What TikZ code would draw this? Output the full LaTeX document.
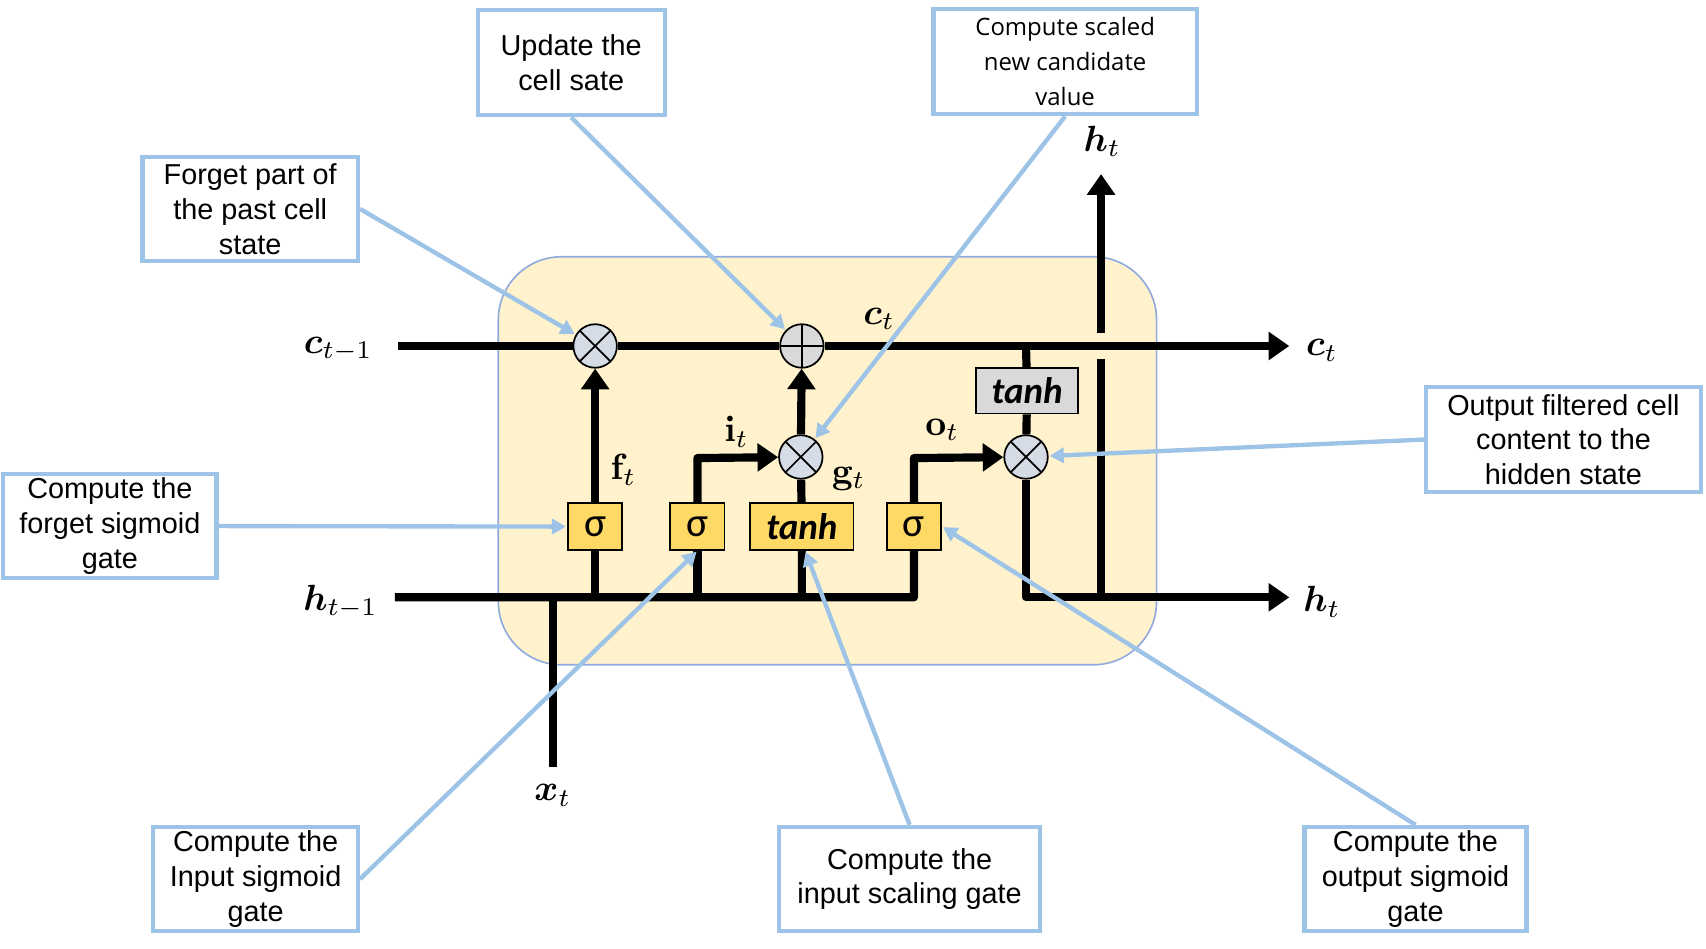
\documentclass[tikz,border=0pt]{standalone}
\usepackage[no-math]{fontspec}
\usepackage{bm}
\setmainfont{Liberation Sans}
\newfontfamily\candfont{Open Sans}
\newfontfamily\gatefont{Carlito}
\usetikzlibrary{arrows.meta}
\definecolor{cellfill}{HTML}{FFF2CC}
\definecolor{cellline}{HTML}{8FAADC}
\definecolor{gatefill}{HTML}{FFD966}
\definecolor{opfill}{HTML}{D6DCE5}
\definecolor{addfill}{HTML}{D9D9D9}
\definecolor{notec}{HTML}{9DC3E6}
\pgfdeclarelayer{back}
\pgfdeclarelayer{wires}
\pgfsetlayers{back,wires,main}
% large math symbol label
\newcommand{\biglab}[1]{\scalebox{3.35}{$#1$}}
\begin{document}
\begin{tikzpicture}[x=1pt,y=-1pt,
  wire/.style={line width=7.5pt, line join=round},
  flow/.style={wire, -{Triangle[width=25pt,length=19pt]}},
  gate/.style={draw, line width=1.6pt, fill=gatefill, minimum width=50pt,
    minimum height=43pt, inner sep=0pt,
    font=\gatefont\fontsize{38}{38}\selectfont},
  tgate/.style={gate, minimum width=95pt,
    font=\gatefont\bfseries\itshape\fontsize{34}{34}\selectfont},
  ggate/.style={tgate, fill=addfill, minimum width=94pt, minimum height=42pt},
  opnode/.style={circle, draw, line width=1.6pt, minimum size=40pt, inner sep=0pt},
  mult/.style={opnode, fill=opfill,
    path picture={\draw[line width=1.6pt]
      (path picture bounding box.north west) -- (path picture bounding box.south east)
      (path picture bounding box.north east) -- (path picture bounding box.south west);}},
  addop/.style={opnode, fill=addfill,
    path picture={\draw[line width=1.6pt]
      (path picture bounding box.north) -- (path picture bounding box.south)
      (path picture bounding box.east) -- (path picture bounding box.west);}},
  mlabel/.style={inner sep=0pt},
  note/.style={draw=notec, line width=3.8pt, fill=white, align=center,
    inner sep=0pt, font=\fontsize{26.5}{32}\selectfont},
  pointer/.style={draw=notec, line width=4pt,
    -{Triangle[width=14pt,length=13pt]}, shorten >=1pt}
]
\useasboundingbox (0,0) rectangle (1568,872);

% cell body
\begin{pgfonlayer}{back}
  \path[fill=cellfill, draw=cellline, line width=1.5pt, rounded corners=58pt]
    (458,236) rectangle (1063,611);
\end{pgfonlayer}

% operators
\node[mult]  (mf)  at (547,318) {};
\node[addop] (add) at (737,318) {};
\node[mult]  (mi)  at (736,420) {};
\node[mult]  (mo)  at (943,420) {};

% gates
\node[gate]  (sf) at (547,484) {σ};
\node[gate]  (si) at (641,484) {σ};
\node[tgate] (tg) at (737,484) {tanh};
\node[gate]  (so) at (840,484) {σ};
\node[ggate] (tc) at (944,359) {tanh};

% wire end points and corners
\coordinate (cin)  at (366,318);
\coordinate (cout) at (1185,318);
\coordinate (hin)  at (363,549);
\coordinate (hout) at (1185,549);
\coordinate (jf)   at (547,549);
\coordinate (ji)   at (641,549);
\coordinate (jg)   at (737,549);
\coordinate (jo)   at (840,549);
\coordinate (ki)   at (641,421);
\coordinate (ko)   at (840,421);
\coordinate (xj)   at (508,549);
\coordinate (xin)  at (508,705);
\coordinate (cc)   at (943,318);
\coordinate (hc)   at (943,549);
\coordinate (hu)   at (1012,549);
\coordinate (hu1)  at (1012,330);
\coordinate (hu2)  at (1012,306);
\coordinate (htop) at (1012,160);

\begin{pgfonlayer}{wires}
  % cell state path
  \draw[wire] (cin) -- (mf) -- (add);
  \draw[flow] (add) -- (cout);
  % hidden state input and output gate branch
  \draw[flow] (hin) -- (jo) -- (ko) -- (mo);
  % forget gate
  \draw[wire] (jf) -- (sf);
  \draw[flow] (sf) -- (mf);
  % input gate
  \draw[wire] (ji) -- (si);
  \draw[flow] (si) -- (ki) -- (mi);
  % candidate
  \draw[wire] (jg) -- (tg) -- (mi);
  \draw[flow] (mi) -- (add);
  % input x_t
  \draw[wire] (xj) -- (xin);
  % output
  \draw[wire] (cc) -- (tc) -- (mo);
  \draw[flow] (mo) -- (hc) -- (hout);
  \draw[wire] (hu) -- (hu1);
  \draw[flow] (hu2) -- (htop);
\end{pgfonlayer}

% variable labels
\node[mlabel] (lcp) at (311,321) {\biglab{\bm{c}_{t-1}}};
\node[mlabel] (lhp) at (313,553) {\biglab{\bm{h}_{t-1}}};
\node[mlabel] (lci) at (808,293) {\biglab{\bm{c}_{t}}};
\node[mlabel] (lco) at (1215,322) {\biglab{\bm{c}_{t}}};
\node[mlabel] (lho) at (1215,553) {\biglab{\bm{h}_{t}}};
\node[mlabel] (lht) at (1013,130) {\biglab{\bm{h}_{t}}};
\node[mlabel] (lx)  at (508,731) {\biglab{\bm{x}_{t}}};
\node[mlabel] (lf)  at (573,432) {\biglab{\mathbf{f}_{t}}};
\node[mlabel] (li)  at (677,397) {\biglab{\mathbf{i}_{t}}};
\node[mlabel] (lg)  at (780,440) {\biglab{\mathbf{g}_{t}}};
\node[mlabel] (lo)  at (866,395) {\biglab{\mathbf{o}_{t}}};

% annotations
\node[note, minimum width=198pt, minimum height=96pt] (nfp) at (230,192)
  {Forget part of\\the past cell\\state};
\node[note, minimum width=172pt, minimum height=97pt] (nup) at (525,57.5)
  {Update the\\cell sate};
\node[note, minimum width=242pt, minimum height=97pt,
  font=\candfont\fontsize{22}{32}\selectfont] (nca) at (979,56.5)
  {Compute scaled\\new candidate\\value};
\node[note, minimum width=196pt, minimum height=95pt] (nfs) at (101,483.5)
  {Compute the\\forget sigmoid\\gate};
\node[note, minimum width=252pt, minimum height=96pt] (nof) at (1437,404)
  {Output filtered cell\\content to the\\hidden state};
\node[note, minimum width=188pt, minimum height=96pt] (nis) at (235,808)
  {Compute the\\Input sigmoid\\gate};
\node[note, minimum width=240pt, minimum height=96pt] (nsc) at (836,808)
  {Compute the\\input scaling gate};
\node[note, minimum width=204pt, minimum height=96pt] (nos) at (1301,808)
  {Compute the\\output sigmoid\\gate};

\draw[pointer] (nfp.east) -- (mf);
\draw[pointer] (nup.south) -- (add);
\draw[pointer] (nca.south) -- (mi);
\draw[pointer] (nfs.east) -- (sf.west);
\draw[pointer] (nof.west) -- (mo);
\draw[pointer] (nis.east) -- (si.south);
\draw[pointer] (nsc.north) -- ([xshift=3pt]tg.south);
\draw[pointer] (nos.north) -- (so.east);
\end{tikzpicture}
\end{document}
